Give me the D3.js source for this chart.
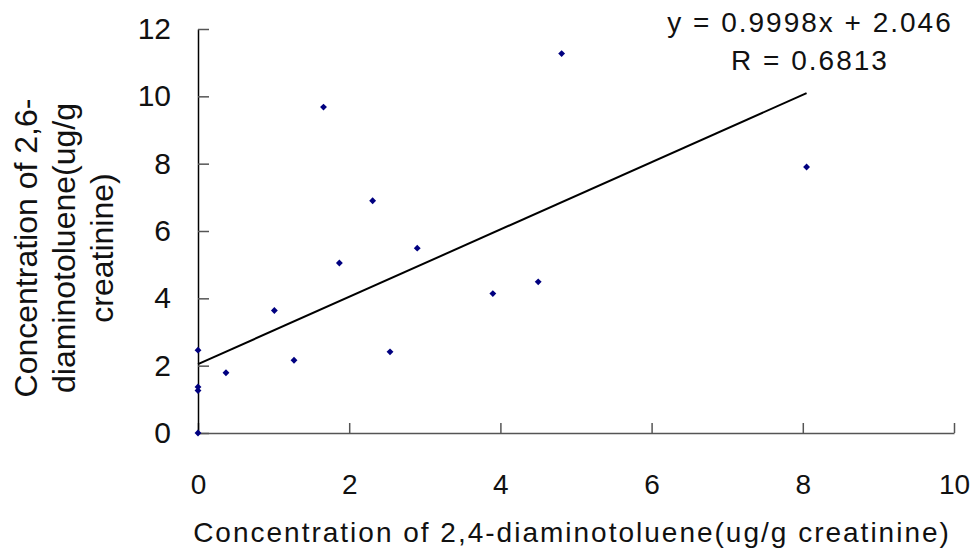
<!DOCTYPE html>
<html>
<head>
<meta charset="utf-8">
<script src="https://cdn.jsdelivr.net/npm/d3@7"></script>
<style>
  html, body { margin: 0; padding: 0; background: #fff; }
  svg { display: block; }
</style>
</head>
<body>
<svg id="chart" width="974" height="552"></svg>
<script>
"use strict";

// 2,4-diaminotoluene (x) vs 2,6-diaminotoluene (y), ug/g creatinine
const dat24 = [0, 0, 0, 0, 0.37, 1.01, 1.27, 1.66, 1.87, 2.31, 2.54, 2.9, 3.9, 4.5, 4.81, 8.05];
const dat26 = [0, 1.26, 1.37, 2.46, 1.79, 3.64, 2.16, 9.68, 5.05, 6.9, 2.41, 5.49, 4.14, 4.49, 11.27, 7.9];

// trendline from the equation shown on the chart
const slope = 0.9998;
const intercept = 2.046;
const eqLines = ["y = 0.9998x + 2.046", "R = 0.6813"];

const xTicks = [0, 2, 4, 6, 8, 10];
const yTicks = [0, 2, 4, 6, 8, 10, 12];
const xTitle = "Concentration of 2,4-diaminotoluene(ug/g creatinine)";
const yTitle = ["Concentration of 2,6-", "diaminotoluene(ug/g", "creatinine)"];

const points = dat24.map((x, i) => ({ x: x, y: dat26[i] }));

const font = "'Liberation Sans', Arial, sans-serif";
const svg = d3.select("#chart");

const x = d3.scaleLinear().domain([0, 10]).range([198, 954]);
const y = d3.scaleLinear().domain([0, 12]).range([433, 29]);

// x axis, ticks pointing up into the plot
const gx = svg.append("g")
  .attr("transform", `translate(0,${y(0)})`)
  .call(d3.axisBottom(x).tickValues(xTicks).tickSizeInner(-10).tickSizeOuter(0).tickPadding(41));
gx.select(".domain").attr("stroke", "#555").attr("stroke-width", 1.5);
gx.selectAll(".tick line").attr("stroke", "#555").attr("stroke-width", 1.5);
gx.selectAll(".tick text")
  .attr("font-family", font)
  .attr("font-size", 28)
  .attr("fill", "#111");

// y axis, ticks pointing right into the plot
const gy = svg.append("g")
  .attr("transform", `translate(${x(0)},0)`)
  .call(d3.axisLeft(y).tickValues(yTicks).tickSizeInner(-11).tickSizeOuter(0).tickPadding(27));
gy.select(".domain").attr("stroke", "#000").attr("stroke-width", 1.5);
gy.selectAll(".tick line").attr("stroke", "#555").attr("stroke-width", 1.5);
gy.selectAll(".tick text")
  .attr("font-family", font)
  .attr("font-size", 30)
  .attr("fill", "#111");

// axis titles
svg.append("text")
  .attr("x", 572)
  .attr("y", 542)
  .attr("text-anchor", "middle")
  .attr("font-family", font)
  .attr("font-size", 28)
  .attr("letter-spacing", 2)
  .attr("fill", "#111")
  .text(xTitle);

svg.append("g")
  .attr("transform", "translate(0,248) rotate(-90)")
  .selectAll("text")
  .data(yTitle)
  .join("text")
  .attr("x", 0)
  .attr("y", (d, i) => 37 + i * 38)
  .attr("text-anchor", "middle")
  .attr("font-family", font)
  .attr("font-size", 32)
  .attr("fill", "#111")
  .text((d) => d);

// trendline across the data range
const xMax = d3.max(dat24);
svg.append("line")
  .attr("x1", x(0))
  .attr("y1", y(intercept))
  .attr("x2", x(xMax))
  .attr("y2", y(slope * xMax + intercept))
  .attr("stroke", "#000")
  .attr("stroke-width", 2);

// data points as small navy diamonds
svg.append("g")
  .selectAll("path")
  .data(points)
  .join("path")
  .attr("transform", (d) => `translate(${x(d.x)},${y(d.y)})`)
  .attr("d", d3.symbol(d3.symbolDiamond2, 30))
  .attr("fill", "#000080");

// equation label
svg.append("g")
  .selectAll("text")
  .data(eqLines)
  .join("text")
  .attr("x", 810)
  .attr("y", (d, i) => 32 + i * 38)
  .attr("text-anchor", "middle")
  .attr("font-family", font)
  .attr("font-size", 28)
  .attr("letter-spacing", 2)
  .attr("fill", "#111")
  .text((d) => d);
</script>
</body>
</html>
